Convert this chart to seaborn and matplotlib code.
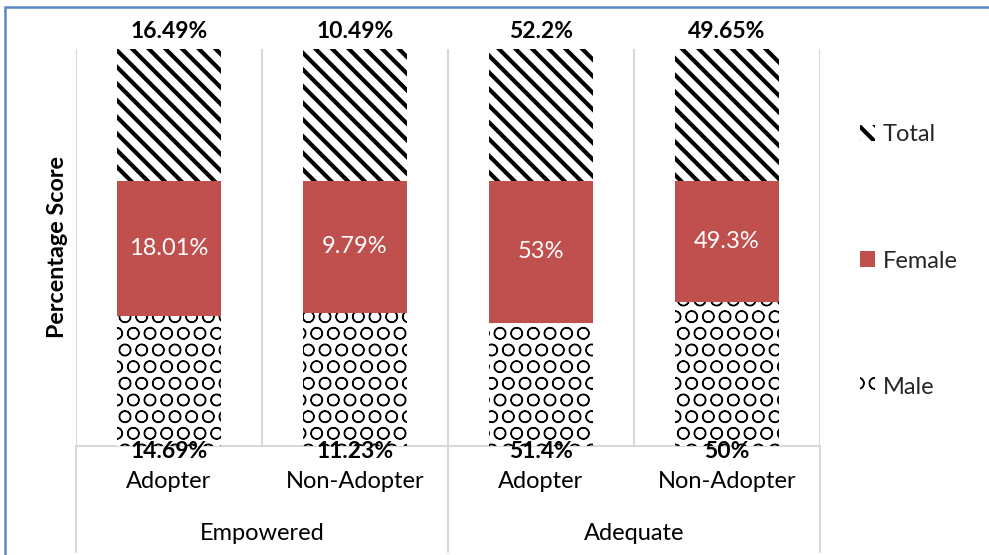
import matplotlib
matplotlib.use("Agg")
import matplotlib.pyplot as plt
import seaborn as sns
import pandas as pd
import numpy as np
from matplotlib.patches import Rectangle, Patch
from matplotlib.lines import Line2D
import matplotlib.transforms as mtransforms

# ---------------- data ----------------
groups = ["Empowered", "Empowered", "Adequate", "Adequate"]
group_names = ["Empowered", "Adequate"]
subcats = ["Adopter", "Non-Adopter", "Adopter", "Non-Adopter"]
# data-label values shown on the chart (%)
male_labels = [14.69, 11.23, 51.4, 50]
female_labels = [18.01, 9.79, 53, 49.3]
total_labels = [16.49, 10.49, 52.2, 49.65]
# segment shares of each 100% bar
male_share = [32.8, 33.6, 31.0, 36.3]
female_share = [33.9, 33.2, 35.8, 30.5]
total_share = [33.3, 33.2, 33.2, 33.2]

def fmt(v):
    return f"{v:g}%"

sns.set_theme(style="white")
plt.rcParams["font.family"] = ["Lato", "DejaVu Sans"]
plt.rcParams["hatch.linewidth"] = 3.0

keys = [f"{g}|{s}" for g, s in zip(groups, subcats)]
df = pd.DataFrame({
    "key": keys,
    "male": male_share,
    "female": female_share,
    "total": total_share,
})
df["cum_mf"] = df["male"] + df["female"]
df["cum_all"] = df["cum_mf"] + df["total"]

W, H = 989, 555
fig = plt.figure(figsize=(W / 100, H / 100), dpi=100)
ax_l, ax_r, ax_t, ax_b = 76, 820, 49, 446
ax = fig.add_axes([ax_l / W, 1 - ax_b / H, (ax_r - ax_l) / W, (ax_b - ax_t) / H])

red = "#C0504D"
bw = 0.56
TOTAL_HATCH = "\\\\"
MALE_HATCH = "O"
MALE_HLW = 0.9
sns.barplot(data=df, x="key", y="cum_all", order=keys, color="white", width=bw, ax=ax)
sns.barplot(data=df, x="key", y="cum_mf", order=keys, color=red, width=bw, ax=ax)
sns.barplot(data=df, x="key", y="male", order=keys, color="white", width=bw, ax=ax)

def style(container, face, hatch, hlw):
    for p in container:
        p.set_facecolor(face)
        p.set_edgecolor("black")
        p.set_linewidth(0)
        p.set_hatch(hatch)
        if hatch and hasattr(p, "set_hatch_linewidth"):
            p.set_hatch_linewidth(hlw)

style(ax.containers[0], "white", TOTAL_HATCH, 3.0)
for p in ax.containers[1]:
    p.set_facecolor(red)
    p.set_edgecolor("none")
    p.set_linewidth(0)
style(ax.containers[2], "white", MALE_HATCH, MALE_HLW)

ax.set_xlim(-0.5, 3.5)
ax.set_ylim(0, 100)
for s in ax.spines.values():
    s.set_visible(False)
ax.set_xticks([])
ax.set_yticks([])
ax.set_xlabel("")
ax.set_ylabel("")
fig.text(57 / W, 1 - 247 / H, "Percentage Score", rotation=90, ha="center", va="center",
         fontsize=16.8, fontweight="bold", color="black")

grid_c = "#D9D9D9"
for xv in [-0.5, 0.5, 1.5, 2.5, 3.5]:
    ax.axvline(xv, color=grid_c, lw=1.5, zorder=0)
ax.axhline(0, color=grid_c, lw=1.5, zorder=0, clip_on=False)

trans = mtransforms.blended_transform_factory(ax.transData, ax.transAxes)
axh = ax_b - ax_t
below = (H - 3 - ax_b) / axh
for xv in [-0.5, 1.5, 3.5]:
    ax.add_line(Line2D([xv, xv], [0, -below], transform=trans, color=grid_c, lw=1.5, clip_on=False))

# labels
xs = np.arange(len(keys))
for i in range(len(keys)):
    ax.text(xs[i], 1 + 18 / axh, fmt(total_labels[i]), transform=trans, ha="center", va="center",
            fontsize=16.5, fontweight="bold", color="black")
    ymid = df["male"][i] + df["female"][i] / 2
    ax.text(xs[i], ymid, fmt(female_labels[i]), ha="center", va="center", fontsize=17, color="white")
    ax.text(xs[i], -6 / axh, fmt(male_labels[i]), transform=trans, ha="center", va="center",
            fontsize=16.5, fontweight="bold", color="black")
    ax.text(xs[i], -35 / axh, subcats[i], transform=trans, ha="center", va="center", fontsize=17, color="black")

for gi, g in enumerate(group_names):
    ax.text(gi * 2 + 0.5, -87 / axh, g, transform=trans, ha="center", va="center", fontsize=17, color="black")

handles = [
    Patch(facecolor="white", edgecolor="black", linewidth=0, hatch=TOTAL_HATCH, label="Total"),
    Patch(facecolor=red, edgecolor="none", label="Female"),
    Patch(facecolor="white", edgecolor="black", linewidth=0, hatch=MALE_HATCH, label="Male"),
]
leg = fig.legend(handles=handles, loc="center left", bbox_to_anchor=(860 / W, 1 - 261 / H),
                 frameon=False, fontsize=17, handlelength=0.65, handleheight=0.65,
                 handletextpad=0.3, labelspacing=4.45, borderpad=0, borderaxespad=0)
for h in leg.legend_handles:
    if h.get_hatch() == MALE_HATCH and hasattr(h, "set_hatch_linewidth"):
        h.set_hatch_linewidth(MALE_HLW)

# outer chart border
fig.add_artist(Rectangle((5 / W, -0.1), 1.2, 1.1 - 7 / H, transform=fig.transFigure,
                         fill=False, edgecolor="#5B87C5", lw=1.8, clip_on=False))

fig.savefig("out.png", dpi=100, facecolor="white")
